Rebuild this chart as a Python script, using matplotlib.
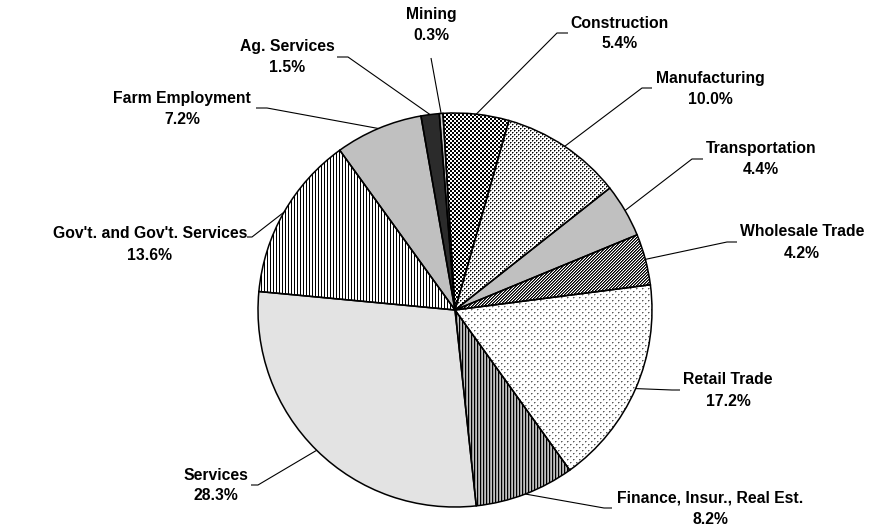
import numpy as np
import matplotlib
matplotlib.use("Agg")
import matplotlib.pyplot as plt

# ---------------------------------------------------------------
# data (share of employment, clockwise from the top)
# ---------------------------------------------------------------
sectors = ["Construction", "Manufacturing", "Transportation", "Wholesale Trade",
           "Retail Trade", "Finance, Insur., Real Est.", "Services",
           "Gov't. and Gov't. Services", "Farm Employment", "Ag. Services", "Mining"]
shares = [5.4, 10.0, 4.4, 4.2, 17.2, 8.2, 28.3, 13.6, 7.2, 1.5, 0.3]

# ---------------------------------------------------------------
# layout (pixel coords, y down)
# ---------------------------------------------------------------
W, H = 886, 527
CX, CY, R = 455, 310, 197

lab_x = [620, 710, 761, 802, 728, 710, 216, 150, 182, 287, 431]
lab_y = [23, 78, 149, 232, 380, 498, 475, 234, 98, 47, 15]
elbow_x = [557, 642, 692, 727, 672, 604, 258, 252, 267, 348, 431]
end_x = [568, 652, 703, 737, 680, 612, 251, 247, 256, 337, 431]
lead_y = [33, 88, 159, 242, 390, 508, 485, 237, 108, 57, 58]

# fill colour / texture per slice
base = ["white", "white", "#c0c0c0", "#808080", "white", "#909090", "#e3e3e3",
        "white", "#c0c0c0", "#2b2b2b", "#cfcfcf"]
texture = ["checker", "dots", None, "diag", "sparse", "vstripe_gray", None,
           "vstripe", None, None, None]


def py(y):
    return H - y


def make_texture(kind):
    yy, xx = np.mgrid[0:H, 0:W]
    if kind == "checker":
        return np.where(((xx // 2) + (yy // 2)) % 2 == 0, 0.0, 1.0)
    if kind == "dots":
        tile = np.array([[0, .5, 1, 1],
                         [.5, 1, 1, 1],
                         [1, 1, 0, .5],
                         [1, 1, .5, 1]])
        return tile[yy % 4, xx % 4]
    if kind == "sparse":
        tile = np.ones((6, 6))
        tile[0, 0] = .35; tile[0, 1] = .65; tile[1, 0] = .75
        tile[3, 3] = .35; tile[3, 4] = .65; tile[4, 3] = .75
        return tile[yy % 6, xx % 6]
    if kind == "diag":
        return np.array([0.0, 0.35, 1.0])[(xx + yy) % 3]
    if kind == "vstripe_gray":
        return np.array([0.0, 0.6, 0.75])[xx % 3]
    if kind == "vstripe":
        return np.array([0.0, 1.0, 1.0])[xx % 3]
    return None


plt.rcParams['font.family'] = ['Liberation Sans', 'DejaVu Sans']

fig = plt.figure(figsize=(W / 100, H / 100), dpi=100)
ax = fig.add_axes([0, 0, 1, 1])

# fills
wedges, _ = ax.pie(shares, colors=base, startangle=93.5, counterclock=False,
                   radius=R, center=(CX, py(CY)), frame=True,
                   wedgeprops=dict(linewidth=0, edgecolor="none"))

for w, kind in zip(wedges, texture):
    if kind is None:
        continue
    img = ax.imshow(make_texture(kind), cmap="gray", vmin=0, vmax=1,
                    extent=(0, W, 0, H), origin="upper",
                    interpolation="nearest", zorder=2)
    img.set_clip_path(w)

# outlines on top
ax.pie(shares, colors=["none"] * len(shares), startangle=93.5, counterclock=False,
       radius=R, center=(CX, py(CY)), frame=True,
       wedgeprops=dict(linewidth=1.1, edgecolor="black", zorder=3))

# labels + leader lines
for i, w in enumerate(wedges):
    mid = np.deg2rad((w.theta1 + w.theta2) / 2)
    x0 = CX + R * np.cos(mid)
    y0 = py(CY) + R * np.sin(mid)
    ax.plot([x0, elbow_x[i], end_x[i]], [y0, py(lead_y[i]), py(lead_y[i])],
            color="black", lw=0.8, zorder=4, solid_capstyle="butt")
    ax.text(lab_x[i], py(lab_y[i]), sectors[i], ha="center", va="center",
            fontsize=11.3, fontweight="bold", color="black")
    ax.text(lab_x[i], py(lab_y[i] + 21), f"{shares[i]:.1f}%", ha="center",
            va="center", fontsize=11.3, fontweight="bold", color="black")

ax.set_xlim(0, W)
ax.set_ylim(0, H)
ax.set_aspect("equal")
ax.axis("off")

fig.savefig("out.png", dpi=100, facecolor="white")
